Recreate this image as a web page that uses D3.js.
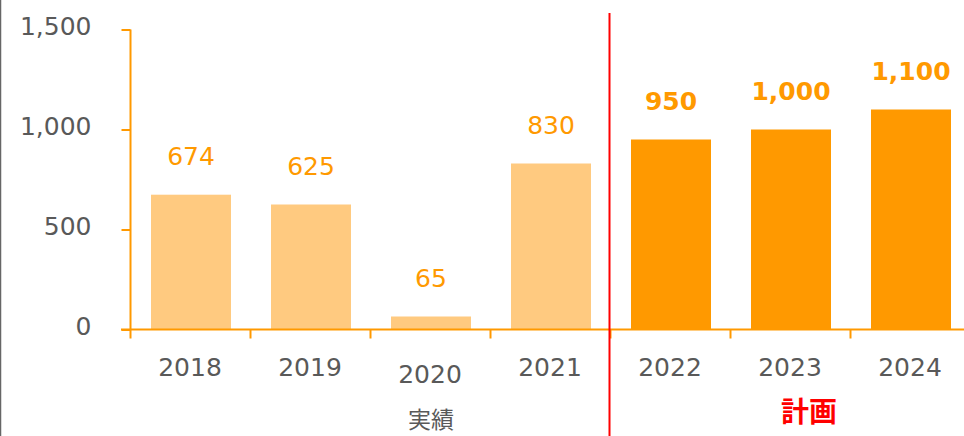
<!DOCTYPE html>
<html>
<head>
<meta charset="utf-8">
<script src="https://cdn.jsdelivr.net/npm/d3@7"></script>
<style>
  html, body { margin: 0; padding: 0; background: #fff; }
  svg { display: block; }
</style>
</head>
<body>
<svg id="chart" width="964" height="436"></svg>
<script>
// Fiscal years, actual results then plan
const years = ["2018", "2019", "2020", "2021", "2022", "2023", "2024"];
const values = [674, 625, 65, 830, 950, 1000, 1100];
const isPlan = [false, false, false, false, true, true, true];
const yTicks = [0, 500, 1000, 1500];
const actualLabel = "実績";
const planLabel = "計画";

const W = 964, H = 436;
const svg = d3.select("#chart");
const ORANGE = "#FF9900", LIGHT = "#FFCA80", GRAY = "#595959", RED = "#FF0000";
const FONT = "'DejaVu Sans', Verdana, sans-serif";
const CJK = "'Noto Sans CJK JP', sans-serif";

const x = d3.scaleBand().domain(years).range([130, 970]).paddingInner(0).paddingOuter(0);
const y = d3.scaleLinear().domain([0, 1500]).range([329.5, 29.5]);
const barW = x.bandwidth() * 2 / 3;

// left frame edge
svg.append("line").attr("x1", 0.5).attr("x2", 0.5).attr("y1", 0).attr("y2", H)
  .attr("stroke", "#666").attr("stroke-width", 1.5);

// bars
svg.selectAll("rect.bar").data(years).join("rect")
  .attr("class", "bar")
  .attr("x", (d) => x(d) + (x.bandwidth() - barW) / 2 + 1)
  .attr("y", (d, i) => y(values[i]))
  .attr("width", barW)
  .attr("height", (d, i) => y(0) - y(values[i]))
  .attr("fill", (d, i) => isPlan[i] ? ORANGE : LIGHT);

// y axis
const yAxis = d3.axisLeft(y).tickValues(yTicks).tickSize(9).tickPadding(0)
  .tickFormat(d3.format(","));
const gy = svg.append("g").attr("transform", "translate(130.5,0)").call(yAxis);
gy.select(".domain").attr("stroke", ORANGE).attr("stroke-width", 2)
  .attr("d", `M0,${y(1500)}V${y(0)}`);
gy.selectAll(".tick line").attr("stroke", ORANGE).attr("stroke-width", 2);
gy.selectAll(".tick text").attr("x", -39).attr("dy", "0.2em")
  .attr("fill", GRAY).style("font-family", FONT).style("font-size", "25px");

// x axis line with boundary ticks
svg.append("line").attr("x1", 121).attr("x2", W).attr("y1", y(0)).attr("y2", y(0))
  .attr("stroke", ORANGE).attr("stroke-width", 2);
svg.selectAll("line.xtick").data(years).join("line")
  .attr("class", "xtick")
  .attr("x1", (d) => x(d) + 0.5).attr("x2", (d) => x(d) + 0.5)
  .attr("y1", y(0)).attr("y2", y(0) + 9)
  .attr("stroke", ORANGE).attr("stroke-width", 2);

// year labels
svg.selectAll("text.year").data(years).join("text")
  .attr("class", "year")
  .attr("x", (d) => x(d) + x.bandwidth() / 2)
  .attr("y", (d) => d === "2020" ? 383 : 376)
  .attr("text-anchor", "middle")
  .attr("fill", GRAY).style("font-family", FONT).style("font-size", "25px")
  .text((d) => d);

// value labels
svg.selectAll("text.val").data(years).join("text")
  .attr("class", "val")
  .attr("x", (d) => x(d) + x.bandwidth() / 2 + 1)
  .attr("y", (d, i) => y(values[i]) - 30)
  .attr("text-anchor", "middle")
  .attr("fill", ORANGE).style("font-family", FONT).style("font-size", "25px")
  .style("font-weight", (d, i) => isPlan[i] ? "bold" : "normal")
  .text((d, i) => d3.format(",")(values[i]));

// divider between actuals and plan
svg.append("line").attr("x1", 609.5).attr("x2", 609.5).attr("y1", 13).attr("y2", H)
  .attr("stroke", RED).attr("stroke-width", 2);

// group labels
svg.append("text").attr("x", 431).attr("y", 428).attr("text-anchor", "middle")
  .attr("fill", GRAY).style("font-family", CJK).style("font-size", "23px")
  .text(actualLabel);
svg.append("text").attr("x", 809).attr("y", 422).attr("text-anchor", "middle")
  .attr("fill", RED).style("font-family", CJK).style("font-size", "28px")
  .style("font-weight", "bold").text(planLabel);
</script>
</body>
</html>
